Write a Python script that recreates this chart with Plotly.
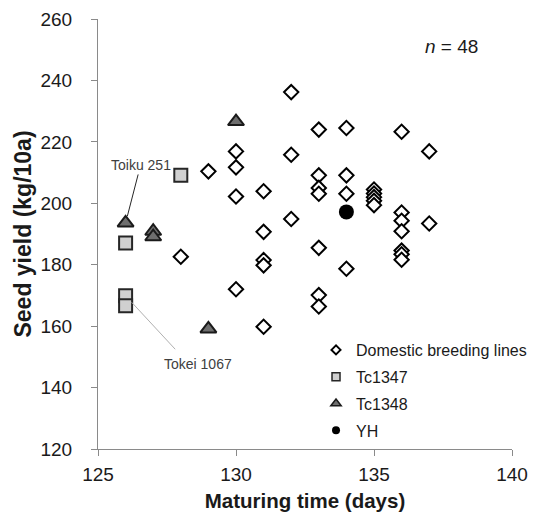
import plotly.graph_objects as go

# ---- data ----
dom_x = [128, 129,
         130, 130, 130, 130,
         131, 131, 131, 131, 131,
         132, 132, 132,
         133, 133, 133, 133, 133, 133, 133,
         134, 134, 134, 134,
         135, 135, 135, 135, 135,
         136, 136, 136, 136, 136, 136, 136,
         137, 137]
dom_y = [182.6, 210.4,
         216.9, 211.7, 202.2, 172.0,
         203.9, 190.7, 181.5, 179.8, 159.8,
         236.2, 215.8, 194.9,
         224.0, 209.1, 205.0, 203.1, 185.5, 170.1, 166.4,
         224.5, 209.1, 203.1, 178.7,
         204.5, 203.2, 202.0, 200.8, 199.4,
         223.3, 197.0, 194.3, 190.9, 184.6, 183.4, 181.6,
         216.9, 193.4]

tc1347_x = [126, 126, 126, 128]
tc1347_y = [187.1, 169.9, 166.6, 209.1]

tc1348_x = [126, 127, 127, 129, 130]
tc1348_y = [193.6, 190.9, 189.1, 159.1, 226.6]

yh_x = [134]
yh_y = [197.2]

x_ticks = [125, 130, 135, 140]
y_ticks = [120, 140, 160, 180, 200, 220, 240, 260]

FONT = "Liberation Sans, Arial, sans-serif"
AXIS_COL = "#8a8a8a"

fig = go.Figure()

# data traces
fig.add_trace(go.Scatter(x=dom_x, y=dom_y, mode="markers", showlegend=False,
                         marker=dict(symbol="diamond", size=11, color="white",
                                     line=dict(color="black", width=2))))
fig.add_trace(go.Scatter(x=tc1347_x, y=tc1347_y, mode="markers", showlegend=False,
                         marker=dict(symbol="square", size=13, color="#d0d0d0",
                                     line=dict(color="#262626", width=2))))
fig.add_trace(go.Scatter(x=tc1348_x, y=tc1348_y, mode="markers", showlegend=False,
                         marker=dict(symbol="triangle-up", size=14, color="#6e6e6e",
                                     line=dict(color="#1a1a1a", width=2))))
fig.add_trace(go.Scatter(x=yh_x, y=yh_y, mode="markers", showlegend=False,
                         marker=dict(symbol="circle", size=15, color="black",
                                     line=dict(color="black", width=0))))

# legend-only entries (smaller symbols like the reference legend)
leg = [
    ("Domestic breeding lines", dict(symbol="diamond", size=7, color="white",
                                     line=dict(color="black", width=2))),
    ("Tc1347", dict(symbol="square", size=8, color="#d0d0d0",
                    line=dict(color="#262626", width=1.5))),
    ("Tc1348", dict(symbol="triangle-up", size=9, color="#6e6e6e",
                    line=dict(color="#1a1a1a", width=1.5))),
    ("YH", dict(symbol="circle", size=8, color="black")),
]
for name, mk in leg:
    fig.add_trace(go.Scatter(x=[None], y=[None], mode="markers", name=name,
                             legendgroup=name, marker=mk))

# annotations
fig.add_annotation(x=tc1348_x[0], y=tc1348_y[0], text="Toiku 251",
                   showarrow=True, arrowhead=0, arrowwidth=1, arrowcolor="#262626",
                   ax=15, ay=-58, standoff=7,
                   font=dict(family=FONT, size=14, color="#404040"))
fig.add_annotation(x=tc1347_x[1], y=tc1347_y[1], text="",
                   showarrow=True, arrowhead=0, arrowwidth=1, arrowcolor="#b0b0b0",
                   ax=51, ay=55, standoff=9)
fig.add_annotation(x=tc1347_x[1], y=tc1347_y[1], text="Tokei 1067",
                   showarrow=False, xshift=72, yshift=-68,
                   font=dict(family=FONT, size=14, color="#404040"))
fig.add_annotation(x=0.923, y=0.937, xref="paper", yref="paper",
                   text="<i>n</i> = 48", showarrow=False,
                   xanchor="right", yanchor="middle",
                   font=dict(family=FONT, size=19, color="#1a1a1a"))

fig.update_layout(
    width=537, height=512,
    margin=dict(l=98, r=25, t=19, b=63, autoexpand=False),
    paper_bgcolor="white", plot_bgcolor="white",
    font=dict(family=FONT, color="#1a1a1a"),
    legend=dict(x=0.5266, xref="paper", xanchor="left",
                y=0.2698, yref="paper", yanchor="top",
                traceorder="grouped", tracegroupgap=3,
                font=dict(family=FONT, size=16, color="#1a1a1a"),
                bgcolor="rgba(0,0,0,0)", itemwidth=30),
    xaxis=dict(range=[125, 140], tickvals=x_ticks, ticktext=[str(v) for v in x_ticks],
               showgrid=False, zeroline=False, showline=True, linecolor=AXIS_COL,
               linewidth=1, ticks="outside", ticklen=6, tickcolor=AXIS_COL,
               tickfont=dict(family=FONT, size=19, color="#1a1a1a"),
               ticklabelstandoff=2,
               title=dict(text="<b>Maturing time (days)</b>", standoff=14,
                          font=dict(family=FONT, size=20.5, color="#1a1a1a"))),
    yaxis=dict(range=[120, 260], tickvals=y_ticks, ticktext=[str(v) for v in y_ticks],
               showgrid=False, zeroline=False, showline=True, linecolor=AXIS_COL,
               linewidth=1, ticks="outside", ticklen=6, tickcolor=AXIS_COL,
               tickfont=dict(family=FONT, size=19, color="#1a1a1a"),
               ticklabelstandoff=15,
               title=dict(text="<b>Seed yield (kg/10a)</b>", standoff=2,
                          font=dict(family=FONT, size=23, color="#1a1a1a"))),
)

fig.write_html("out.html")
